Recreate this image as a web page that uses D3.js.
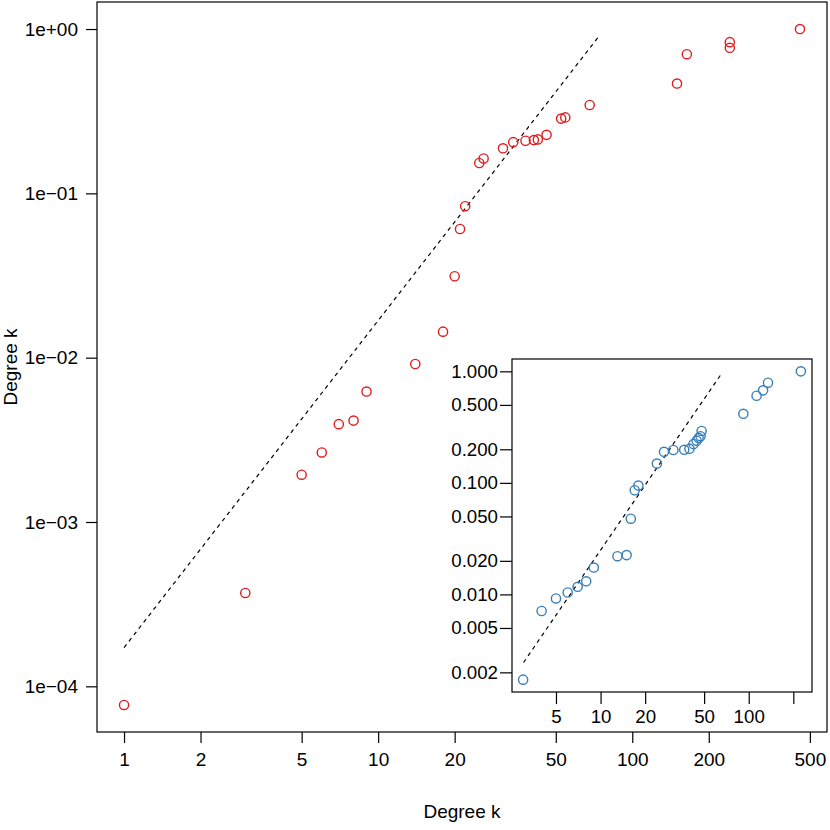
<!DOCTYPE html>
<html>
<head>
<meta charset="utf-8">
<script src="https://cdn.jsdelivr.net/npm/d3@7"></script>
<style>
	body { margin: 0; background: #fff; }
	text { font-family: "Liberation Sans", Arial, sans-serif; fill: #000; }
</style>
</head>
<body>
<div id="chartDiv"></div>
<script>
// main plot: degree k vs cumulative value (log-log)
var mainK = [1, 3, 5, 6, 7, 8, 9, 14, 18, 20, 21, 22, 25, 26, 31, 34, 38, 41, 42.5, 46, 52.5, 54.5, 68, 150, 164, 242, 242, 457];
var mainP = [7.7e-5, 3.7e-4, 1.94e-3, 2.65e-3, 3.94e-3, 4.14e-3, 6.22e-3, 9.15e-3, 0.0144, 0.0313, 0.0607, 0.0835, 0.153, 0.163, 0.188, 0.205, 0.209, 0.211, 0.213, 0.227, 0.285, 0.290, 0.345, 0.466, 0.703, 0.769, 0.832, 1.0];
var mainLineK = [1, 74];
var mainLineP = [1.72e-4, 0.905];
var mainXTicks = [1, 2, 5, 10, 20, 50, 100, 200, 500];
var mainYTicks = [1e-4, 1e-3, 1e-2, 1e-1, 1];
var mainYLabels = ["1e\u221204", "1e\u221203", "1e\u221202", "1e\u221201", "1e+00"];

// inset plot
var insetK = [3, 4, 5, 6, 7, 8, 9, 13, 15, 16, 17, 18, 24, 26.8, 31, 36.7, 39.8, 42.4, 44.5, 45.9, 47.3, 48.1, 92, 113, 125, 135, 225];
var insetP = [1.72e-3, 7.1e-3, 9.2e-3, 0.0104, 0.0117, 0.0131, 0.0174, 0.022, 0.0225, 0.0477, 0.0859, 0.0946, 0.149, 0.190, 0.197, 0.198, 0.202, 0.223, 0.239, 0.253, 0.262, 0.292, 0.416, 0.604, 0.675, 0.791, 1.0];
var insetLineK = [3.02, 65.5];
var insetLineP = [2.45e-3, 0.953];
var insetXTicks = [5, 10, 20, 50, 100, 200];
var insetXLabels = ["5", "10", "20", "50", "100", ""];
var insetYTicks = [0.002, 0.005, 0.01, 0.02, 0.05, 0.1, 0.2, 0.5, 1];
var insetYLabels = ["0.002", "0.005", "0.010", "0.020", "0.050", "0.100", "0.200", "0.500", "1.000"];

var red = "#E41A1C", blue = "#377EB8";

// R style log range: data extent padded by 4% each side (in log units)
function padLog(vals) {
	var lo = Math.log10(d3.min(vals)), hi = Math.log10(d3.max(vals));
	var p = (hi - lo) * 0.04;
	return [Math.pow(10, lo - p), Math.pow(10, hi + p)];
}

var svg = d3.select("#chartDiv").append("svg")
	.attr("width", 830)
	.attr("height", 830);

function drawPanel(opt) {
	var x = d3.scaleLog().domain(padLog(opt.k)).range([opt.left, opt.right]);
	var y = d3.scaleLog().domain(padLog(opt.p)).range([opt.bottom, opt.top]);
	var g = svg.append("g");

	g.append("rect")
		.attr("x", opt.left).attr("y", opt.top)
		.attr("width", opt.right - opt.left)
		.attr("height", opt.bottom - opt.top)
		.attr("fill", "#fff")
		.attr("stroke", "#000")
		.attr("stroke-width", 1.2);

	// x axis
	var xa = g.append("g")
		.attr("transform", "translate(0," + opt.bottom + ")")
		.call(d3.axisBottom(x).tickValues(opt.xTicks)
			.tickSize(opt.tick).tickPadding(opt.xPad)
			.tickFormat(function(d, i) { return opt.xLabels[i]; }));
	xa.select(".domain").remove();
	xa.selectAll("line").attr("stroke-width", 1.2);
	xa.selectAll("text").attr("font-size", opt.font + "px")
		.attr("font-family", "Liberation Sans, Arial, sans-serif");

	// y axis
	var ya = g.append("g")
		.attr("transform", "translate(" + opt.left + ",0)")
		.call(d3.axisLeft(y).tickValues(opt.yTicks)
			.tickSize(opt.tick).tickPadding(opt.yPad)
			.tickFormat(function(d, i) { return opt.yLabels[i]; }));
	ya.select(".domain").remove();
	ya.selectAll("line").attr("stroke-width", 1.2);
	ya.selectAll("text").attr("font-size", opt.font + "px")
		.attr("font-family", "Liberation Sans, Arial, sans-serif");

	// dashed reference line
	g.append("line")
		.attr("x1", x(opt.lineK[0])).attr("y1", y(opt.lineP[0]))
		.attr("x2", x(opt.lineK[1])).attr("y2", y(opt.lineP[1]))
		.attr("stroke", "#000")
		.attr("stroke-width", 1.2)
		.attr("stroke-dasharray", "4,4");

	g.selectAll(".pt")
		.data(opt.k)
		.enter().append("circle")
		.attr("class", "pt")
		.attr("cx", function(d) { return x(d); })
		.attr("cy", function(d, i) { return y(opt.p[i]); })
		.attr("r", 4.6)
		.attr("fill", "none")
		.attr("stroke", opt.color)
		.attr("stroke-width", 1.4);
}

drawPanel({
	k: mainK, p: mainP, lineK: mainLineK, lineP: mainLineP,
	left: 97, right: 827, top: 2, bottom: 732,
	xTicks: mainXTicks, xLabels: mainXTicks.map(String),
	yTicks: mainYTicks, yLabels: mainYLabels,
	tick: 11, xPad: 10, yPad: 8, font: 19, color: red
});

// axis titles
svg.append("text")
	.attr("x", 462).attr("y", 818)
	.attr("text-anchor", "middle")
	.attr("font-size", "19px")
	.text("Degree k");
svg.append("text")
	.attr("transform", "translate(17,367) rotate(-90)")
	.attr("text-anchor", "middle")
	.attr("font-size", "19px")
	.text("Degree k");

drawPanel({
	k: insetK, p: insetP, lineK: insetLineK, lineP: insetLineP,
	left: 512, right: 812, top: 359, bottom: 692,
	xTicks: insetXTicks, xLabels: insetXLabels,
	yTicks: insetYTicks, yLabels: insetYLabels,
	tick: 12, xPad: 6, yPad: 2, font: 18.7, color: blue
});
</script>
</body>
</html>
